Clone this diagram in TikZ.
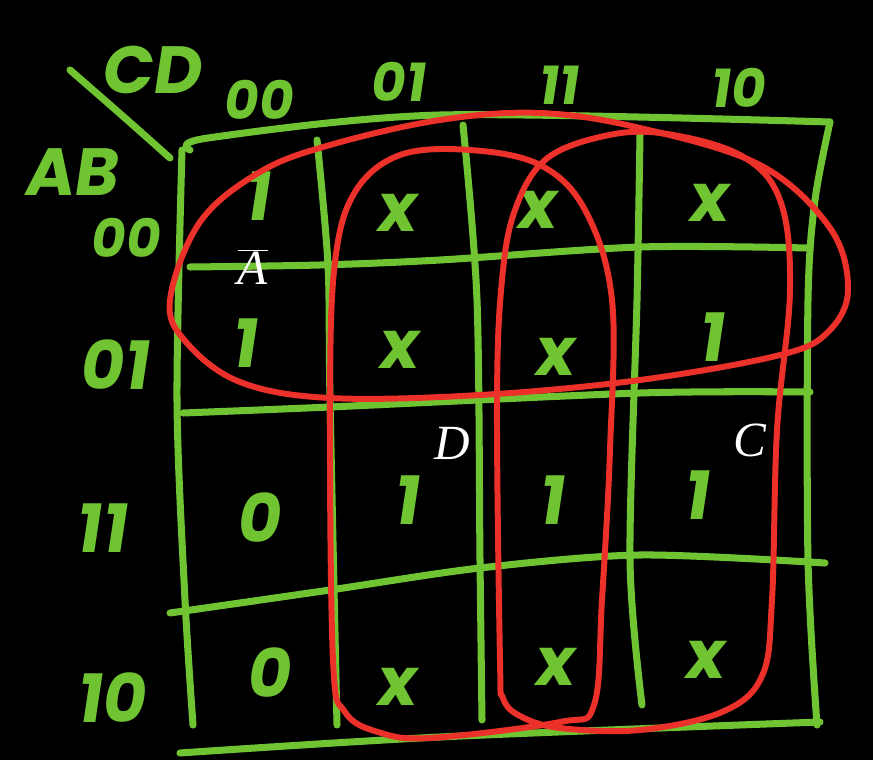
\documentclass[tikz,border=0pt]{standalone}
\usepackage{fontspec}
\newfontfamily\handfont[FakeSlant=0.15]{Poppins}
\newfontfamily\labelfont{Liberation Serif}
\definecolor{chalkgreen}{RGB}{112,196,50}
\definecolor{loopred}{RGB}{236,48,42}
\tikzset{
  grid line/.style={chalkgreen, line width=4pt, line cap=round, line join=round},
  loop line/.style={loopred, line width=3.4pt, line join=round},
  cell/.style={chalkgreen, inner sep=0pt, font=\handfont\bfseries\fontsize{38}{38}\selectfont},
  head/.style={chalkgreen, inner sep=0pt, font=\handfont\bfseries\fontsize{30}{30}\selectfont},
  side/.style={chalkgreen, inner sep=0pt, font=\handfont\bfseries\fontsize{38}{38}\selectfont},
  var/.style={chalkgreen, inner sep=0pt, font=\handfont\bfseries\fontsize{38}{38}\selectfont},
  term/.style={white, inner sep=0pt, font=\labelfont\itshape\fontsize{28}{28}\selectfont},
}
\begin{document}
\begin{tikzpicture}[x=0.02cm, y=-0.02cm]
        \fill[black] (0,0) rectangle (873,760);
        \useasboundingbox (0,0) rectangle (873,760);

        % the map
        \draw[grid line] plot[smooth] coordinates {(190,150) (208,138) (440,115) (830,122)};
        \draw[grid line] plot[smooth] coordinates {(830,122) (815,200) (808,300) (808,560) (817,725)};
        \draw[grid line] plot[smooth] coordinates {(180,753) (440,737) (820,722)};
        \draw[grid line] plot[smooth] coordinates {(182,150) (177,400) (185,600) (193,725)};
        \draw[grid line] plot[smooth] coordinates {(317,140) (328,265) (330,400) (337,725)};
        \draw[grid line] plot[smooth] coordinates {(463,125) (477,300) (480,560) (482,720)};
        \draw[grid line] plot[smooth] coordinates {(640,135) (637,300) (630,560) (642,705)};
        \draw[grid line] plot[smooth] coordinates {(190,267) (320,265) (440,260) (640,247) (808,248)};
        \draw[grid line] plot[smooth] coordinates {(183,413) (330,407) (640,393) (810,392)};
        \draw[grid line] plot[smooth] coordinates {(170,613) (330,590) (480,568) (640,555) (825,563)};
        \draw[grid line] plot[smooth] coordinates {(70,70) (125,118) (170,158)};

        % variables and headings
        \node[var] (cd) at (150,70) {CD};
        \node[var] (ab) at (70,172) {AB};
        \node[head] (col00) at (257,100) {00};
        \node[head] (col01) at (397,82) {01};
        \node[head] (col11) at (557,85) {11};
        \node[head] (col10) at (737,88) {10};
        \node[head] (row00) at (124,238) {00};
        \node[side] (row01) at (113,365) {01};
        \node[side] (row11) at (100,528) {11};
        \node[side] (row10) at (110,698) {10};

        % entries
        \node[cell] (m0) at (256,196) {1};
        \node[cell] (m1) at (395,213) {x};
        \node[cell] (m3) at (535,210) {x};
        \node[cell] (m2) at (707,203) {x};
        \node[cell] (m4) at (243,343) {1};
        \node[cell] (m5) at (397,350) {x};
        \node[cell] (m7) at (553,357) {x};
        \node[cell] (m6) at (710,337) {1};
        \node[cell] (m12) at (257,518) {0};
        \node[cell] (m13) at (405,500) {1};
        \node[cell] (m15) at (550,500) {1};
        \node[cell] (m14) at (695,495) {1};
        \node[cell] (m8) at (267,673) {0};
        \node[cell] (m9) at (395,687) {x};
        \node[cell] (m11) at (553,667) {x};
        \node[cell] (m10) at (703,660) {x};

        % groups
        \draw[loop line] plot[smooth cycle, tension=0.6] coordinates {
          (170,300) (200,222) (260,172) (330,145) (440,120) (540,113)
          (640,128) (760,165) (830,228) (848,290) (828,332) (780,355)
          (640,380) (480,395) (330,398) (240,382) (186,342)};
        \draw[loop line] plot[smooth cycle, tension=0.6] coordinates {
          (333,660) (330,400) (335,262) (355,192) (400,155) (470,150)
          (540,165) (585,210) (612,300) (610,450) (602,600) (594,705)
          (560,722) (430,738) (378,732) (345,712)};
        \draw[loop line] plot[smooth cycle, tension=0.6] coordinates {
          (500,660) (497,400) (502,280) (515,210) (545,160) (600,137)
          (660,133) (740,155) (780,200) (790,290) (777,430) (772,600)
          (762,676) (722,712) (640,730) (560,728) (520,716) (503,698)};

        % terms
        \node[term] (nota) at (253,267) {$\overline{\mbox{\labelfont\itshape A}}$};
        \node[term] (termd) at (452,443) {D};
        \node[term] (termc) at (750,440) {C};
\end{tikzpicture}
\end{document}
